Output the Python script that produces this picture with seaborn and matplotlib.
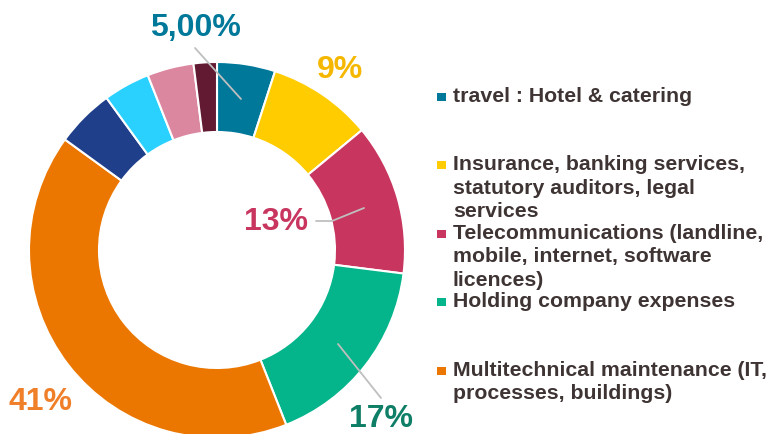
import matplotlib
matplotlib.use("Agg")
import matplotlib.pyplot as plt
import seaborn as sns

categories = [
    "travel : Hotel & catering",
    "Insurance, banking services,\nstatutory auditors, legal\nservices",
    "Telecommunications (landline,\nmobile, internet, software\nlicences)",
    "Holding company expenses",
    "Multitechnical maintenance (IT,\nprocesses, buildings)",
    "Other 1",
    "Other 2",
    "Other 3",
    "Other 4",
]
values = [5, 9, 13, 17, 41, 5, 4, 4, 2]
colors = ["#00789A", "#FFCC00", "#C8365F", "#04B48A", "#EB7700",
          "#1F3F8A", "#2AD1FF", "#DC87A0", "#621A32"]
pct_labels = ["5,00%", "9%", "13%", "17%", "41%"]
pct_colors = ["#00789A", "#F5B700", "#C8365F", "#0E7E66", "#F07F2A"]
n_legend = 5

sns.set_theme(style="white")
plt.rcParams['font.family'] = ['Liberation Sans', 'DejaVu Sans']

fig = plt.figure(figsize=(7.7, 4.35), dpi=100)
ax = fig.add_axes([0, 0, 1, 1])

R = 188
cx, cy = 217, 184
ax.pie(values, colors=sns.color_palette(colors), startangle=90, counterclock=False,
       radius=R, center=(cx, cy), frame=True,
       wedgeprops=dict(width=70, edgecolor='white', linewidth=1.5))
ax.set_xlim(0, 770)
ax.set_ylim(0, 435)
ax.set_aspect('equal')
ax.axis('off')

# percentage labels and leader lines
lab_pos = [(195, 407), (340, 365), (276, 213), (381, 16), (40, 33)]
leaders = [
    [(195, 386), (241, 335)],
    None,
    [(316, 213), (332, 213), (364, 226)],
    [(338, 90), (381, 36)],
    None,
]
for txt, col, (x, y), ld in zip(pct_labels, pct_colors, lab_pos, leaders):
    ax.text(x, y, txt, color=col, fontsize=23, fontweight='bold',
            ha='center', va='center')
    if ld:
        xs, ys = zip(*ld)
        ax.plot(xs, ys, color='#BFBFBF', lw=1.3)

# legend
text_col = '#3F3434'
for i in range(n_legend):
    base = 435 - (102 + i * 68.5)
    ax.add_patch(plt.Rectangle((437, base + 0.5), 9, 8, color=colors[i], lw=0))
    for k, line in enumerate(categories[i].split("\n")):
        ax.text(453, base - k * 23.3, line, color=text_col, fontsize=15.3,
                fontweight='bold', ha='left', va='baseline')

fig.savefig("out.png", dpi=100)
